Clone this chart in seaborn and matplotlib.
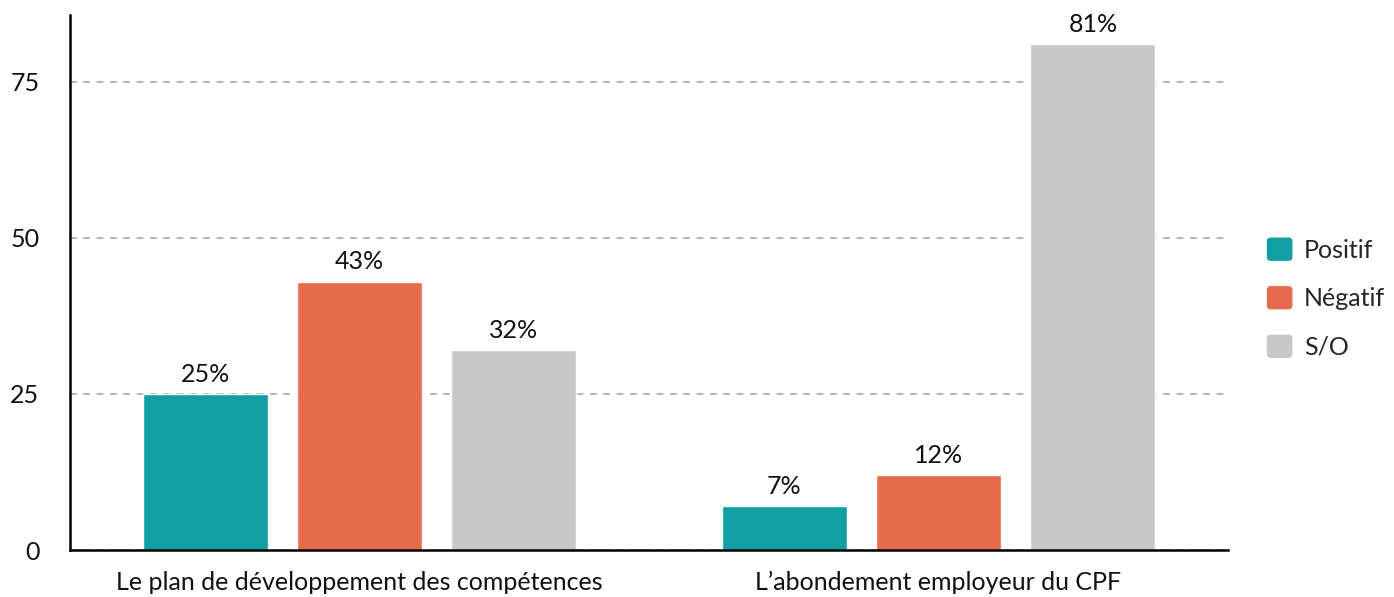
import pandas as pd
import matplotlib
matplotlib.use("Agg")
import matplotlib.pyplot as plt
from matplotlib.patches import FancyBboxPatch, Rectangle
from matplotlib.legend_handler import HandlerPatch
import seaborn as sns

# Data
categories = ["Le plan de développement des compétences", "L’abondement employeur du CPF"]
responses = ["Positif", "Négatif", "S/O"]
positif = [25, 7]
negatif = [43, 12]
so = [32, 81]
colors = ["#119EA5", "#E66B4E", "#C8C8C8"]

df = pd.DataFrame({
    "Dispositif": categories * 3,
    "Réponse": [r for r in responses for _ in categories],
    "Valeur": positif + negatif + so,
})

sns.set_theme(style="white")
plt.rcParams["font.family"] = ["Lato", "DejaVu Sans"]

fig = plt.figure(figsize=(13.94, 5.97), dpi=100)
ax = fig.add_axes([0.0502, 0.0787, 0.8307, 0.8962])

sns.barplot(data=df, x="Dispositif", y="Valeur", hue="Réponse", hue_order=responses,
            palette=colors, width=0.8, gap=0.19, saturation=1, ax=ax, zorder=2)

for cont in ax.containers:
    ax.bar_label(cont, labels=[f"{v:.0f}%" for v in cont.datavalues],
                 padding=6, fontsize=18, color="#111111")

ax.set_ylim(0, 85.7)
ax.set_xlim(-0.5, 1.5)
ax.set_yticks([0, 25, 50, 75])
ax.yaxis.grid(True, linestyle=(0, (4, 4)), color="#AAAAAA", linewidth=1.2, zorder=0)
ax.set_axisbelow(True)
ax.tick_params(axis="both", length=0, labelsize=18, colors="#111111")
ax.tick_params(axis="x", pad=15)
ax.tick_params(axis="y", pad=22)
ax.set_xlabel("")
ax.set_ylabel("")

for s in ["top", "right"]:
    ax.spines[s].set_visible(False)
for s in ["left", "bottom"]:
    ax.spines[s].set_color("black")
    ax.spines[s].set_linewidth(1.8)


# rounded square legend markers
def rounded_box(legend, orig_handle, xdescent, ydescent, width, height, fontsize):
    return FancyBboxPatch((-xdescent, -ydescent), width, height,
                          boxstyle="round,pad=0,rounding_size=2")


handles = [Rectangle((0, 0), 1, 1, color=c) for c in colors]
ax.legend(handles, responses, loc="center left", bbox_to_anchor=(1.0147, 0.47), frameon=False,
          fontsize=18, handlelength=0.97, handleheight=0.97,
          labelspacing=1.0, handletextpad=0.5,
          handler_map={Rectangle: HandlerPatch(patch_func=rounded_box)})

fig.savefig("out.png", dpi=100)
